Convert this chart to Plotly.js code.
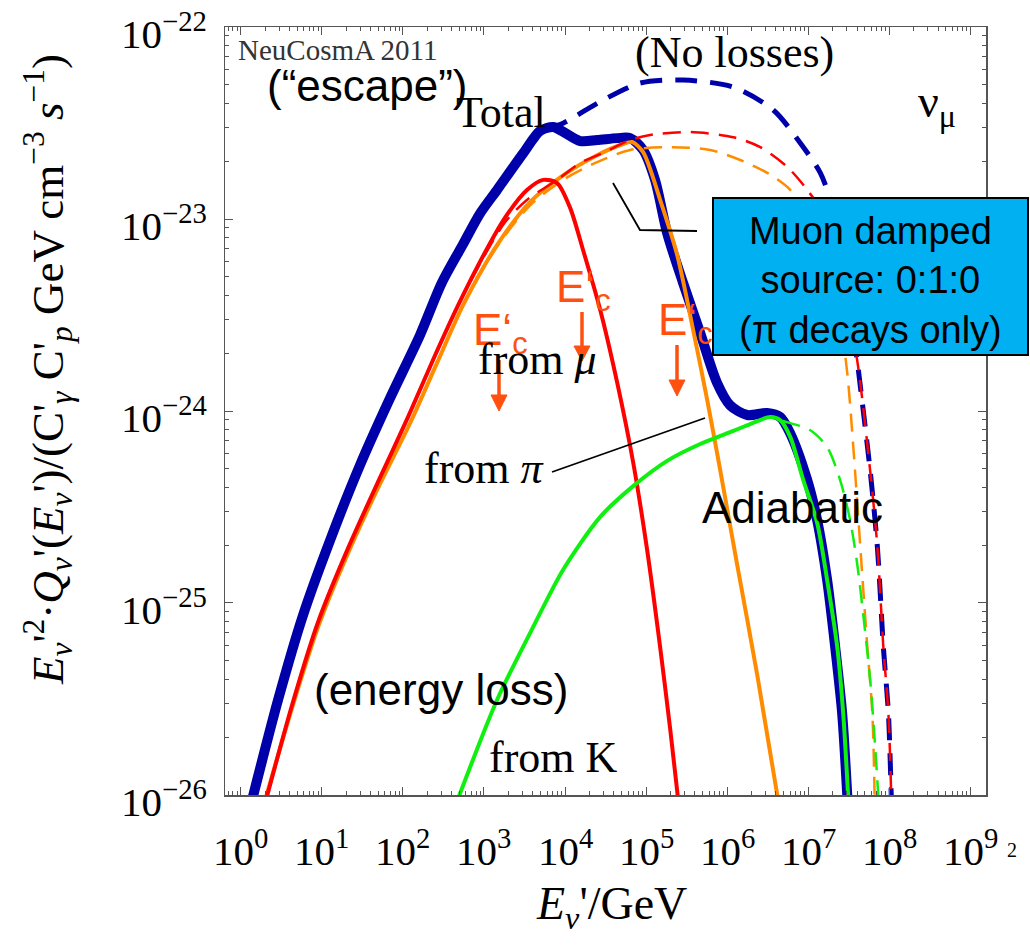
<!DOCTYPE html>
<html>
<head>
<meta charset="utf-8">
<script src="https://cdn.plot.ly/plotly-3.0.1.min.js"></script>
<style>html,body{margin:0;padding:0;background:#fff;}#chart{width:1030px;height:946px;}</style>
</head>
<body>
<div id="chart"></div>
<script>
// ---- data (E' in GeV, E'^2 Q' in arbitrary units) ----
const totalE = [1.38, 2.89, 5.88, 12.7, 29.7, 69.7, 163, 302, 553, 897, 1455, 3050, 4930, 7140, 9480, 15400, 24900, 44100, 63700, 92000, 129000, 182000, 286000, 465000, 752000, 1.09e6, 1.77e6, 3.11e6, 4.51e6, 5.98e6, 9.70e6, 1.29e7, 1.71e7, 2.15e7, 2.62e7, 3.05e7];
const totalQ = [9.4e-27, 3.13e-26, 8.66e-26, 2.13e-25, 5.24e-25, 1.17e-24, 2.49e-24, 4.65e-24, 7.40e-24, 1.07e-23, 1.42e-23, 2.20e-23, 2.88e-23, 3.02e-23, 2.85e-23, 2.55e-23, 2.58e-23, 2.64e-23, 2.64e-23, 2.29e-23, 1.60e-23, 8.45e-24, 4.65e-24, 2.55e-24, 1.40e-24, 1.07e-24, 9.53e-25, 9.77e-25, 9.31e-25, 7.67e-25, 4.38e-25, 2.70e-25, 1.32e-25, 5.90e-26, 2.67e-26, 9.5e-27];

const totalNoLossE = [3050, 5620, 9480, 29600, 84700, 287000, 1.19e6, 3.71e6, 7.98e6, 1.41e7, 1.87e7, 2.87e7, 4.01e7, 5.85e7, 7.13e7, 8.45e7, 9.75e7, 1.06e8];
const totalNoLossQ = [2.15e-23, 2.90e-23, 3.16e-23, 4.17e-23, 5.11e-23, 5.30e-23, 4.87e-23, 3.70e-23, 2.49e-23, 1.74e-23, 1.26e-23, 5.42e-24, 1.85e-24, 4.75e-25, 1.96e-25, 5.90e-26, 2.67e-26, 9.5e-27];

const muE = [2.05, 4.30, 9.0, 21.1, 49.4, 116, 236, 481, 1007, 1830, 3420, 5380, 8000, 11600, 16700, 27200, 44100, 69500, 103000, 149000, 199000, 249000];
const muQ = [9.4e-27, 2.94e-26, 7.96e-26, 1.93e-25, 4.27e-25, 9.31e-25, 1.85e-24, 3.56e-24, 6.58e-24, 1.02e-23, 1.42e-23, 1.60e-23, 1.54e-23, 1.14e-23, 6.90e-24, 3.36e-24, 1.40e-24, 5.36e-25, 1.89e-25, 5.90e-26, 2.18e-26, 9.4e-27];

const muNoLossE = [2.05, 4.30, 9.0, 21.1, 49.4, 116, 236, 481, 1007, 1830, 3410, 8000, 15400, 29600, 63700, 112000, 351000, 1.19e6, 2.56e6, 5.51e6, 9.70e6, 1.87e7, 2.82e7, 4.01e7, 5.85e7, 7.13e7, 8.45e7, 9.75e7, 1.06e8];
const muNoLossQ = [9.4e-27, 2.94e-26, 7.96e-26, 1.93e-25, 4.27e-25, 9.31e-25, 1.85e-24, 3.56e-24, 6.41e-24, 9.64e-24, 1.26e-23, 1.60e-23, 1.96e-23, 2.21e-23, 2.58e-23, 2.74e-23, 2.84e-23, 2.67e-23, 2.37e-23, 1.87e-23, 1.42e-23, 9.33e-24, 3.98e-24, 1.85e-24, 4.75e-25, 1.96e-25, 5.90e-26, 2.67e-26, 9.5e-27];

const piE = [2.0, 4.30, 9.0, 21.1, 49.4, 123, 264, 553, 1455, 3720, 9480, 24900, 52200, 67500, 92000, 149000, 242000, 381000, 568000, 820000, 1.33e6, 2.35e6, 4.27e6];
const piQ = [9.4e-27, 2.84e-26, 7.50e-26, 1.82e-25, 3.97e-25, 8.66e-25, 1.78e-24, 3.56e-24, 7.33e-24, 1.23e-23, 1.69e-23, 2.15e-23, 2.46e-23, 2.52e-23, 2.23e-23, 1.26e-23, 6.49e-24, 2.64e-24, 1.14e-24, 4.93e-25, 1.58e-25, 4.22e-26, 9.3e-27];

const piNoLossE = [2.0, 4.30, 9.0, 21.1, 49.4, 123, 264, 553, 1455, 3720, 9480, 24900, 63700, 182000, 618000, 1.45e6, 3.12e6, 6.0e6, 1.22e7, 2.35e7, 3.03e7, 3.60e7, 4.39e7, 5.36e7, 6.18e7, 6.61e7];
const piNoLossQ = [9.4e-27, 2.84e-26, 7.50e-26, 1.82e-25, 3.97e-25, 8.66e-25, 1.78e-24, 3.56e-24, 7.20e-24, 1.18e-23, 1.60e-23, 1.98e-23, 2.29e-23, 2.37e-23, 2.29e-23, 2.03e-23, 1.74e-23, 1.42e-23, 8.77e-24, 3.36e-24, 1.58e-24, 6.49e-25, 1.96e-25, 5.90e-26, 2.67e-26, 9.3e-27];

const kE = [468, 1455, 3720, 9480, 27200, 69300, 182000, 465000, 1.19e6, 1.92e6, 3.40e6, 4.51e6, 6.0e6, 8.67e6, 1.29e7, 1.71e7, 2.28e7, 2.70e7, 3.13e7];
const kQ = [9.3e-27, 3.13e-26, 6.98e-26, 1.49e-25, 2.81e-25, 4.06e-25, 5.50e-25, 6.73e-25, 7.87e-25, 8.55e-25, 9.31e-25, 8.97e-25, 7.33e-25, 4.38e-25, 2.61e-25, 1.32e-25, 5.90e-26, 2.67e-26, 9.3e-27];

const kNoLossE = [468, 1455, 3720, 9480, 27200, 69300, 182000, 465000, 1.19e6, 1.92e6, 3.40e6, 4.9e6, 1.05e7, 1.71e7, 2.47e7, 3.29e7, 4.01e7, 4.75e7, 5.81e7, 6.70e7, 7.38e7];
const kNoLossQ = [9.3e-27, 3.13e-26, 6.98e-26, 1.49e-25, 2.81e-25, 4.06e-25, 5.50e-25, 6.73e-25, 7.87e-25, 8.55e-25, 9.31e-25, 8.87e-25, 7.96e-25, 6.49e-25, 4.38e-25, 2.70e-25, 1.61e-25, 8.87e-26, 3.97e-26, 1.78e-26, 9.3e-27];

const xTickVals = [1, 10, 100, 1e3, 1e4, 1e5, 1e6, 1e7, 1e8, 1e9];
const xTickText = ['10<sup>0</sup>', '10<sup>1</sup>', '10<sup>2</sup>', '10<sup>3</sup>', '10<sup>4</sup>', '10<sup>5</sup>', '10<sup>6</sup>', '10<sup>7</sup>', '10<sup>8</sup>', '10<sup>9</sup>'];
const yTickVals = [1e-26, 1e-25, 1e-24, 1e-23, 1e-22];
const yTickText = ['10<sup>\u221226</sup>', '10<sup>\u221225</sup>', '10<sup>\u221224</sup>', '10<sup>\u221223</sup>', '10<sup>\u221222</sup>'];

// ---- styling ----
const BLUE = '#0000aa', RED = '#ff0000', ORANGE = '#ff8c00', GREEN = '#10f010', ARROW = '#ff5010';
const SERIF = 'Liberation Serif, Times New Roman, serif';
const SANS = 'Liberation Sans, Arial, sans-serif';

// plot frame in pixels
const L = 225, R = 986, T = 27, B = 795;
const px = x => (x - L) / (R - L);
const py = y => (B - y) / (B - T);

function line(x, y, color, width, dash) {
  return {x: x, y: y, type: 'scatter', mode: 'lines', hoverinfo: 'skip',
    line: {color: color, width: width, dash: dash || 'solid', shape: 'spline', smoothing: 0.8}};
}

const traces = [
  line(totalNoLossE, totalNoLossQ, BLUE, 5, '22px,13px'),
  line(totalE, totalQ, BLUE, 10),
  line(piNoLossE, piNoLossQ, ORANGE, 2.5, '18px,10px'),
  line(piE, piQ, ORANGE, 4),
  line(muNoLossE, muNoLossQ, RED, 2.5, '18px,10px'),
  line(muE, muQ, RED, 4),
  line(kNoLossE, kNoLossQ, GREEN, 2.5, '18px,10px'),
  line(kE, kQ, GREEN, 4)
];

function txt(x, y, text, size, family, opts) {
  return Object.assign({xref: 'paper', yref: 'paper', x: px(x), y: py(y), text: text, showarrow: false,
    xanchor: 'center', yanchor: 'middle', font: {family: family, size: size, color: '#000'}}, opts || {});
}

const annotations = [
  txt(236, 50, 'NeuCosmA 2011', 29, SERIF, {xanchor: 'left', font: {family: SERIF, size: 29, color: '#333'}}),
  txt(367, 85, '(\u201Cescape\u201D)', 44, SANS),
  txt(501, 112, 'Total', 44, SERIF),
  txt(734, 52, '(No losses)', 44, SERIF),
  txt(916, 105, '\u03BD<sub>\u03BC</sub>', 46, SERIF, {xanchor: 'left'}),
  txt(870, 280, 'Muon damped<br>source: 0:1:0<br>(\u03C0 decays only)', 38, SANS),
  txt(471, 333, 'E\u2018<sub>c</sub>', 44, SANS, {xanchor: 'left', font: {family: SANS, size: 44, color: ARROW}}),
  txt(554, 290, 'E\u2018<sub>c</sub>', 44, SANS, {xanchor: 'left', font: {family: SANS, size: 44, color: ARROW}}),
  txt(656, 323, 'E\u2018<sub>c</sub>', 44, SANS, {xanchor: 'left', font: {family: SANS, size: 44, color: ARROW}}),
  txt(537, 359, 'from <i>\u03BC</i>', 44, SERIF),
  txt(484, 468, 'from <i>\u03C0</i>', 44, SERIF),
  txt(792, 507, 'Adiabatic', 44, SANS),
  txt(441, 689, '(energy loss)', 44, SANS),
  txt(553, 757, 'from K', 44, SERIF),
  txt(1012, 850, '2', 20, SERIF),
  txt(611, 907, '<i>E<sub>\u03BD</sub></i>\'/GeV', 46, SERIF),
  txt(47, 370, '<i>E<sub>\u03BD</sub></i>\'<sup>2</sup>\u00B7<i>Q<sub>\u03BD</sub></i>\'(<i>E<sub>\u03BD</sub></i>\')/(C\'<sub><i>\u03B3</i></sub> C\'<sub><i>p</i></sub> GeV cm<sup>\u22123</sup> <i>s</i><sup>\u22121</sup>)', 45, SERIF, {textangle: -90})
];

// tick labels, placed like the reference (slightly away from the frame)
xTickVals.forEach((v, i) => {
  annotations.push({xref: 'x', yref: 'paper', x: Math.log10(v), y: py(820), yanchor: 'top', xanchor: 'center',
    text: xTickText[i], showarrow: false, font: {family: SERIF, size: 41, color: '#000'}});
});
yTickVals.forEach((v, i) => {
  annotations.push({xref: 'paper', yref: 'y', x: px(209), y: Math.log10(v), yshift: -4, yanchor: 'middle', xanchor: 'right',
    text: yTickText[i], showarrow: false, font: {family: SERIF, size: 41, color: '#000'}});
});

function arrow(x, top, base, tip) {
  return [
    {type: 'line', xref: 'paper', yref: 'paper', x0: px(x), x1: px(x), y0: py(top), y1: py(base + 2),
      line: {color: ARROW, width: 3.5}},
    {type: 'path', xref: 'paper', yref: 'paper',
      path: 'M ' + px(x - 8) + ',' + py(base) + ' L ' + px(x + 8) + ',' + py(base) + ' L ' + px(x) + ',' + py(tip) + ' Z',
      fillcolor: ARROW, line: {color: ARROW, width: 1}}
  ];
}

const shapes = [
  {type: 'rect', xref: 'paper', yref: 'paper', x0: px(713), x1: px(1028), y0: py(355), y1: py(198),
    fillcolor: '#00b0f0', line: {color: '#000', width: 2}, layer: 'above'},
  {type: 'path', xref: 'paper', yref: 'paper',
    path: 'M ' + px(613) + ',' + py(183) + ' L ' + px(640) + ',' + py(230) + ' L ' + px(697) + ',' + py(231),
    line: {color: '#000', width: 1.8}},
  {type: 'line', xref: 'paper', yref: 'paper', x0: px(552), y0: py(472), x1: px(705), y1: py(418),
    line: {color: '#000', width: 1.8}}
].concat(arrow(499, 360, 395, 411), arrow(582, 312, 346, 361), arrow(677, 345, 380, 396));

const axisCommon = {
  type: 'log', tickmode: 'array', ticks: 'inside', ticklen: 8, tickwidth: 1, tickcolor: '#555',
  showline: true, linecolor: '#555', linewidth: 1.5, mirror: 'ticks', showgrid: false, zeroline: false,
  showticklabels: false,
  minor: {ticks: 'inside', ticklen: 4, tickwidth: 1, tickcolor: '#555', dtick: 'D1', showgrid: false}
};

const layout = {
  width: 1030, height: 946,
  margin: {l: L, r: 1030 - R, t: T, b: 946 - B},
  paper_bgcolor: '#fff', plot_bgcolor: '#fff',
  showlegend: false, hovermode: false,
  xaxis: Object.assign({}, axisCommon, {range: [-0.194, 9.193], tickvals: xTickVals, ticktext: xTickText}),
  yaxis: Object.assign({}, axisCommon, {range: [-26.0005, -21.9995], tickvals: yTickVals, ticktext: yTickText}),
  annotations: annotations,
  shapes: shapes
};

Plotly.newPlot('chart', traces, layout, {staticPlot: true, displayModeBar: false});
</script>
</body>
</html>
